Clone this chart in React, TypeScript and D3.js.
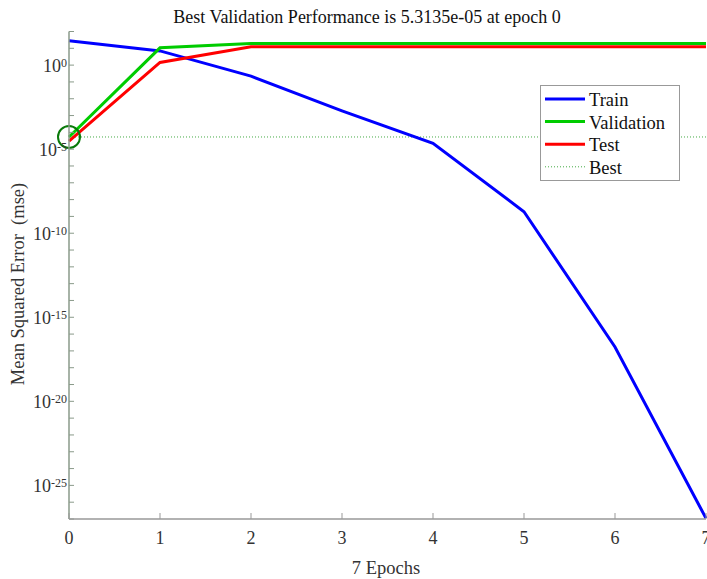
import React from "react";
import * as d3 from "d3";

// performance per epoch (mse)
const epochs = [0, 1, 2, 3, 4, 5, 6, 7];
const trainMse = [2.8e1, 7.0, 2.2e-1, 1.9e-3, 2.2e-5, 1.9e-9, 1.7e-17, 1.1e-27];
const validationMse = [5.3135e-5, 1.07e1, 1.95e1, 1.95e1, 1.95e1, 1.95e1, 1.95e1, 1.95e1];
const testMse = [3.0e-5, 1.45, 1.23e1, 1.23e1, 1.23e1, 1.23e1, 1.23e1, 1.23e1];
const bestEpoch = 0;
const bestPerf = 5.3135e-5;
const yLabelExps = [0, -5, -10, -15, -20, -25];
const legendItems = ["Train", "Validation", "Test", "Best"];

const W = 707;
const H = 579;
const font = "'Liberation Serif', 'Times New Roman', serif";

export default function App() {
  const x = d3.scaleLinear().domain([0, 7]).range([69, 706]);
  const y = d3.scaleLog().domain([1e-27, 1e2]).range([519, 31.5]);

  const line = d3
    .line<number>()
    .x((d, i) => x(epochs[i]))
    .y((d) => y(d));

  const minorTicks = d3.range(-27, 3).map((e) => Math.pow(10, e));
  const series = [
    { name: "Train", data: trainMse, color: "#0000ff" },
    { name: "Validation", data: validationMse, color: "#00cc00" },
    { name: "Test", data: testMse, color: "#ff0000" },
  ];
  const legendColors = ["#0000ff", "#00cc00", "#ff0000", "#44aa44"];

  return (
    <div style={{ position: "absolute", left: 0, top: 0 }}>
      <svg width={W} height={H} style={{ display: "block", background: "#fff" }}>
        {/* title */}
        <text x={367} y={23} textAnchor="middle" fontFamily={font} fontSize={18} fill="#111">
          Best Validation Performance is 5.3135e-05 at epoch 0
        </text>

        {/* best line */}
        <line
          x1={x(0)}
          x2={x(7)}
          y1={y(bestPerf)}
          y2={y(bestPerf)}
          stroke="#44aa44"
          strokeWidth={1}
          strokeDasharray="1,2"
        />

        {series.map((s) => (
          <path key={s.name} d={line(s.data) || ""} fill="none" stroke={s.color} strokeWidth={3} />
        ))}

        <circle
          cx={x(bestEpoch)}
          cy={y(bestPerf)}
          r={11}
          fill="none"
          stroke="#0a7a0a"
          strokeWidth={2}
        />

        {/* y axis */}
        <line x1={69} x2={69} y1={31.5} y2={519} stroke="#8a9a8a" strokeWidth={1.5} />
        {minorTicks.map((t) => (
          <line key={t} x1={69} x2={74} y1={y(t)} y2={y(t)} stroke="#8a9a8a" strokeWidth={1} />
        ))}
        {yLabelExps.map((e) => (
          <text
            key={e}
            x={67}
            y={y(Math.pow(10, e)) + 7}
            textAnchor="end"
            fontFamily={font}
            fontSize={18}
            fill="#333"
          >
            10<tspan fontSize={12} dy={-5}>{e}</tspan>
          </text>
        ))}

        {/* x axis */}
        <line x1={69} x2={706} y1={519} y2={519} stroke="#999" strokeWidth={1.5} />
        {epochs.map((t) => (
          <g key={t}>
            <line x1={x(t)} x2={x(t)} y1={519} y2={513} stroke="#999" strokeWidth={1} />
            <text x={x(t)} y={544} textAnchor="middle" fontFamily={font} fontSize={18} fill="#333">
              {t}
            </text>
          </g>
        ))}
        <text x={386} y={574} textAnchor="middle" fontFamily={font} fontSize={18.5} fill="#333">
          7 Epochs
        </text>
        <text
          transform="translate(24,284) rotate(-90)"
          textAnchor="middle"
          fontFamily={font}
          fontSize={18.5}
          fill="#333"
        >
          Mean Squared Error{"\u00a0\u00a0"}(mse)
        </text>

        {/* legend */}
        <rect x={540.5} y={85.5} width={139} height={95} fill="#fff" stroke="#999" strokeWidth={1} />
        {legendItems.map((name, i) => (
          <g key={name}>
            <line
              x1={545}
              x2={585}
              y1={99 + i * 22.6}
              y2={99 + i * 22.6}
              stroke={legendColors[i]}
              strokeWidth={name === "Best" ? 1 : 3}
              strokeDasharray={name === "Best" ? "1,2" : undefined}
            />
            <text x={589} y={106 + i * 22.6} fontFamily={font} fontSize={18.5} fill="#111">
              {name}
            </text>
          </g>
        ))}
      </svg>
    </div>
  );
}
